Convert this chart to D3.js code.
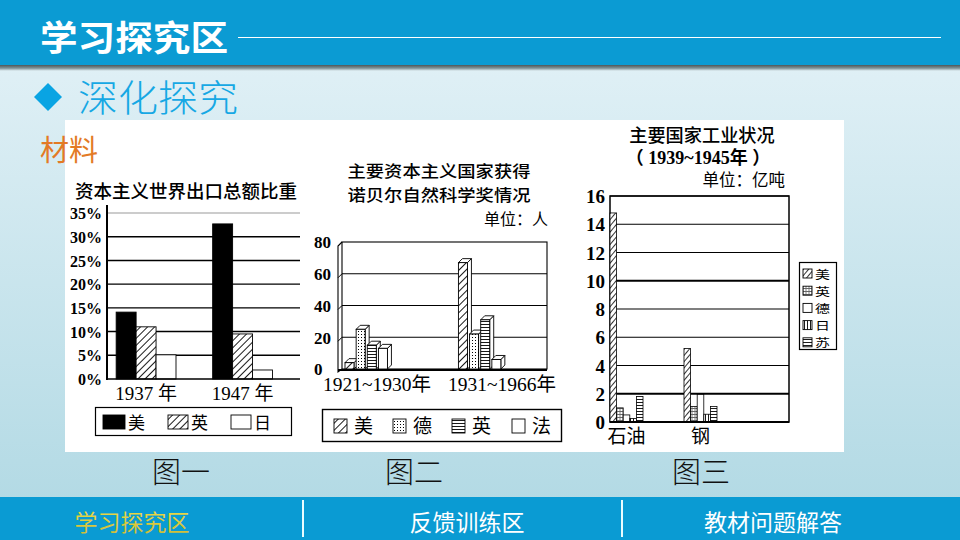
<!DOCTYPE html>
<html><head><meta charset="utf-8">
<script src="https://cdn.jsdelivr.net/npm/d3@7"></script>
<style>html,body{margin:0;padding:0;background:#fff;} svg{display:block;}</style>
</head><body>
<script>
// ---------- DATA ----------
const fig1Years = ["1937 年", "1947 年"];
const fig1Countries = ["美", "英", "日"];
const fig1US = [14.1, 32.7];
const fig1UK = [11.0, 9.5];
const fig1JP = [5.1, 1.9];
const fig1Ticks = [0, 5, 10, 15, 20, 25, 30, 35];

const fig2Periods = ["1921~1930年", "1931~1966年"];
const fig2Countries = ["美", "德", "英", "法"];
const fig2US = [4, 67];
const fig2DE = [25, 22];
const fig2UK = [15, 31];
const fig2FR = [13, 6];
const fig2Ticks = [0, 20, 40, 60, 80];

const fig3Items = ["石油", "钢"];
const fig3Countries = ["美", "英", "德", "日", "苏"];
const fig3US = [14.8, 5.2];
const fig3UK = [1.0, 1.1];
const fig3DE = [0.5, 1.95];
const fig3JP = [0.25, 0.55];
const fig3SU = [1.8, 1.1];
const fig3Ticks = [0, 2, 4, 6, 8, 10, 12, 14, 16];

const navItems = ["学习探究区", "反馈训练区", "教材问题解答"];
const figNames = ["图一", "图二", "图三"];

// ---------- SETUP ----------
const W = 960, H = 540;
const svg = d3.select("body").append("svg").attr("width", W).attr("height", H);
const defs = svg.append("defs");
const CJK = "'Noto Sans CJK SC', sans-serif";
const SERIF = "'Liberation Serif', 'Noto Sans CJK SC', serif";

const bg = defs.append("linearGradient").attr("id", "bg").attr("x1", 0).attr("y1", 0).attr("x2", 0).attr("y2", 1);
bg.append("stop").attr("offset", 0).attr("stop-color", "#e6f3f8");
bg.append("stop").attr("offset", 1).attr("stop-color", "#afd8e3");
const sh = defs.append("linearGradient").attr("id", "sh").attr("x1", 0).attr("y1", 0).attr("x2", 0).attr("y2", 1);
sh.append("stop").attr("offset", 0).attr("stop-color", "#3c4446");
sh.append("stop").attr("offset", 0.6).attr("stop-color", "#7f9499");
sh.append("stop").attr("offset", 1).attr("stop-color", "#e4f2f7");
const yel = defs.append("linearGradient").attr("id", "yel").attr("x1", 0).attr("y1", 0).attr("x2", 0).attr("y2", 1);
yel.append("stop").attr("offset", 0).attr("stop-color", "#f2e04a");
yel.append("stop").attr("offset", 1).attr("stop-color", "#c9b836");

function pat(id, w, h, draw, transform) {
  const p = defs.append("pattern").attr("id", id).attr("patternUnits", "userSpaceOnUse")
    .attr("width", w).attr("height", h);
  if (transform) p.attr("patternTransform", transform);
  p.append("rect").attr("width", w).attr("height", h).attr("fill", "#fff");
  draw(p);
}
pat("diag", 5, 5, p => p.append("line").attr("x1", 0.5).attr("y1", 0).attr("x2", 0.5).attr("y2", 5).attr("stroke", "#000").attr("stroke-width", 0.9), "rotate(45)");
pat("diag2", 4, 4, p => p.append("line").attr("x1", 0.5).attr("y1", 0).attr("x2", 0.5).attr("y2", 4).attr("stroke", "#000").attr("stroke-width", 0.8), "rotate(40)");
pat("hl", 4, 3, p => p.append("line").attr("x1", 0).attr("y1", 0.5).attr("x2", 4).attr("y2", 0.5).attr("stroke", "#000").attr("stroke-width", 0.9));
pat("vl", 3, 4, p => p.append("line").attr("x1", 0.5).attr("y1", 0).attr("x2", 0.5).attr("y2", 4).attr("stroke", "#000").attr("stroke-width", 0.9));
pat("dots", 3, 3, p => p.append("rect").attr("x", 1).attr("y", 1).attr("width", 1).attr("height", 1).attr("fill", "#000"));
pat("grid", 3, 3, p => {
  p.append("line").attr("x1", 0).attr("y1", 0.5).attr("x2", 3).attr("y2", 0.5).attr("stroke", "#000").attr("stroke-width", 0.6);
  p.append("rect").attr("x", 1.5).attr("y", 1.5).attr("width", 1).attr("height", 1).attr("fill", "#000");
});

// ---------- SLIDE BACKGROUND ----------
svg.append("rect").attr("width", W).attr("height", H).attr("fill", "url(#bg)");
svg.append("rect").attr("x", 0).attr("y", 64).attr("width", W).attr("height", 7).attr("fill", "url(#sh)");
svg.append("rect").attr("x", 0).attr("y", 0).attr("width", W).attr("height", 65).attr("fill", "#0b9bd3");
svg.append("text").attr("x", 40).attr("y", 51).attr("font-family", CJK).attr("font-weight", 700)
  .attr("font-size", 35).attr("fill", "#fff").attr("textLength", 188).attr("lengthAdjust", "spacingAndGlyphs").text("学习探究区");
svg.append("line").attr("x1", 238).attr("x2", 941).attr("y1", 37.5).attr("y2", 37.5).attr("stroke", "#fff").attr("stroke-width", 1);

svg.append("path").attr("d", "M48,83 L62,97 L48,111 L34,97 Z").attr("fill", "#09a4e3");
svg.append("text").attr("x", 78).attr("y", 112).attr("font-family", CJK).attr("font-weight", 300)
  .attr("font-size", 37).attr("fill", "#16a8e4").attr("textLength", 160).attr("lengthAdjust", "spacingAndGlyphs").text("深化探究");

// white panel
svg.append("rect").attr("x", 65).attr("y", 120).attr("width", 779).attr("height", 332).attr("fill", "#fff");
svg.append("text").attr("x", 40).attr("y", 161).attr("font-family", CJK).attr("font-size", 29)
  .attr("fill", "#e37a25").text("材料");

// figure labels
const figX = [181, 414, 701];
svg.selectAll("text.fig").data(figNames).join("text").attr("class", "fig")
  .attr("x", (d, i) => figX[i]).attr("y", 483).attr("text-anchor", "middle")
  .attr("font-family", CJK).attr("font-weight", 300).attr("font-size", 29).attr("fill", "#111").text(d => d);

// bottom nav
svg.append("rect").attr("x", 0).attr("y", 497).attr("width", W).attr("height", 43).attr("fill", "#0a9bd3");
[303, 622].forEach(x => svg.append("line").attr("x1", x).attr("x2", x).attr("y1", 500).attr("y2", 537)
  .attr("stroke", "#eafcff").attr("stroke-width", 2));
const navX = [132, 467, 773];
svg.selectAll("text.nav").data(navItems).join("text").attr("class", "nav")
  .attr("x", (d, i) => navX[i]).attr("y", 531).attr("text-anchor", "middle")
  .attr("font-family", CJK).attr("font-size", 23)
  .attr("fill", (d, i) => i === 0 ? "url(#yel)" : "#fff").text(d => d);

// ---------- FIGURE 1 ----------
{
  const g = svg.append("g");
  const y = d3.scaleLinear().domain([0, 35]).range([379, 213]);
  const x0 = d3.scaleBand().domain(fig1Years).range([107, 300]).paddingInner(0.38).paddingOuter(0.19).align(0.25);
  const x1 = d3.scaleBand().domain(fig1Countries).range([0, x0.bandwidth()]);
  const series = [fig1US, fig1UK, fig1JP];
  const fills = ["#000", "url(#diag)", "#fff"];

  g.append("text").attr("x", 186).attr("y", 198).attr("text-anchor", "middle").attr("font-family", CJK)
    .attr("font-weight", 500).attr("font-size", 18.5).attr("fill", "#000").text("资本主义世界出口总额比重");

  g.selectAll("line.grid").data(fig1Ticks.filter(t => t > 0)).join("line")
    .attr("x1", 107).attr("x2", 300).attr("y1", d => y(d)).attr("y2", d => y(d))
    .attr("stroke", d => d === 35 ? "#999" : "#000").attr("stroke-width", d => d === 35 ? 1 : 1.4);
  const ax = g.append("g").attr("transform", "translate(105,0)")
    .call(d3.axisLeft(y).tickValues(fig1Ticks).tickSize(0).tickFormat(d => d + "%"));
  ax.select(".domain").remove();
  ax.selectAll("text").attr("font-family", SERIF).attr("font-weight", 700).attr("font-size", 16).attr("fill", "#000").attr("dy", "0.35em");

  fig1Years.forEach((yr, i) => {
    series.forEach((s, j) => {
      g.append("rect").attr("x", x0(yr) + x1(fig1Countries[j])).attr("width", x1.bandwidth())
        .attr("y", y(s[i])).attr("height", y(0) - y(s[i]))
        .attr("fill", fills[j]).attr("stroke", "#000").attr("stroke-width", 0.9);
    });
    g.append("text").attr("x", x0(yr) + x0.bandwidth() / 2).attr("y", 400).attr("text-anchor", "middle")
      .attr("font-family", SERIF).attr("font-size", 19).attr("fill", "#000").text(yr);
  });
  g.append("line").attr("x1", 107).attr("x2", 107).attr("y1", 205).attr("y2", 380).attr("stroke", "#000").attr("stroke-width", 2);
  g.append("line").attr("x1", 106).attr("x2", 300).attr("y1", 379).attr("y2", 379).attr("stroke", "#000").attr("stroke-width", 1.6);

  // legend
  g.append("rect").attr("x", 95.5).attr("y", 407.5).attr("width", 196).attr("height", 28).attr("fill", "#fff").attr("stroke", "#000").attr("stroke-width", 1.2);
  const lx = [103, 168, 231];
  fig1Countries.forEach((c, j) => {
    g.append("rect").attr("x", lx[j]).attr("y", 415).attr("width", j === 0 ? 22 : 20).attr("height", 14)
      .attr("fill", fills[j]).attr("stroke", "#000").attr("stroke-width", 0.9);
    g.append("text").attr("x", lx[j] + (j === 0 ? 25 : 23)).attr("y", 429).attr("font-family", CJK)
      .attr("font-size", 17).attr("fill", "#000").text(c);
  });
}

// ---------- FIGURE 2 ----------
{
  const g = svg.append("g");
  const y = d3.scaleLinear().domain([0, 80]).range([369, 242]);
  const x0 = d3.scaleBand().domain(fig2Periods).range([345, 503]).paddingInner(0.607).paddingOuter(0);
  const x1 = d3.scaleBand().domain(fig2Countries).range([0, x0.bandwidth()]);
  const series = [fig2US, fig2DE, fig2UK, fig2FR];
  const fills = ["url(#diag)", "url(#dots)", "url(#hl)", "#fff"];
  const d = 4, w = 9;

  g.append("text").attr("x", 439).attr("y", 177).attr("text-anchor", "middle").attr("font-family", CJK)
    .attr("font-weight", 500).attr("font-size", 16.4).attr("fill", "#000")
    .attr("textLength", 183).attr("lengthAdjust", "spacingAndGlyphs").text("主要资本主义国家获得");
  g.append("text").attr("x", 439).attr("y", 201).attr("text-anchor", "middle").attr("font-family", CJK)
    .attr("font-weight", 500).attr("font-size", 16.4).attr("fill", "#000")
    .attr("textLength", 183).attr("lengthAdjust", "spacingAndGlyphs").text("诺贝尔自然科学奖情况");
  g.append("text").attr("x", 548).attr("y", 225).attr("text-anchor", "end").attr("font-family", CJK)
    .attr("font-size", 16).attr("fill", "#000").text("单位：人");

  // frame
  g.append("rect").attr("x", 342).attr("y", 242).attr("width", 205).attr("height", 127).attr("fill", "none").attr("stroke", "#000").attr("stroke-width", 1.1);
  g.append("path").attr("d", "M342,242 L338,246 L338,372 L342,369").attr("fill", "none").attr("stroke", "#000").attr("stroke-width", 1.1);
  g.selectAll("line.grid").data(fig2Ticks.filter(t => t > 0 && t < 80)).join("line")
    .attr("x1", 342).attr("x2", 547).attr("y1", v => y(v)).attr("y2", v => y(v)).attr("stroke", "#000").attr("stroke-width", 1.2);
  g.selectAll("path.gridw").data(fig2Ticks.filter(t => t > 0 && t < 80)).join("path")
    .attr("d", v => `M338,${y(v) + 4} L342,${y(v)}`).attr("stroke", "#000").attr("fill", "none");
  g.append("line").attr("x1", 338).attr("x2", 547).attr("y1", 370).attr("y2", 370).attr("stroke", "#000").attr("stroke-width", 2);

  const ax = g.append("g").attr("transform", "translate(314,0)")
    .call(d3.axisLeft(y).tickValues(fig2Ticks).tickSize(0));
  ax.select(".domain").remove();
  ax.selectAll("text").attr("text-anchor", "start").attr("x", 0).attr("font-family", SERIF).attr("font-weight", 700)
    .attr("font-size", 17).attr("fill", "#000").attr("dy", "0.35em");

  fig2Periods.forEach((pp, i) => {
    series.forEach((s, j) => {
      const bx = x0(pp) + x1(fig2Countries[j]);
      const yt = y(s[i]), yb = y(0);
      g.append("path").attr("d", `M${bx + w},${yt} L${bx + w + d},${yt - d} L${bx + w + d},${yb - d} L${bx + w},${yb} Z`)
        .attr("fill", "#fff").attr("stroke", "#000").attr("stroke-width", 0.9);
      g.append("path").attr("d", `M${bx},${yt} L${bx + d},${yt - d} L${bx + w + d},${yt - d} L${bx + w},${yt} Z`)
        .attr("fill", "#fff").attr("stroke", "#000").attr("stroke-width", 0.9);
      g.append("rect").attr("x", bx).attr("y", yt).attr("width", w).attr("height", yb - yt)
        .attr("fill", fills[j]).attr("stroke", "#000").attr("stroke-width", 0.9);
    });
  });
  const labX = [377, 502];
  fig2Periods.forEach((pp, i) => g.append("text").attr("x", labX[i]).attr("y", 391).attr("text-anchor", "middle")
    .attr("font-family", SERIF).attr("font-size", 19.5).attr("fill", "#000").text(pp));

  // legend
  g.append("rect").attr("x", 322.5).attr("y", 409.5).attr("width", 239).attr("height", 32).attr("fill", "#fff").attr("stroke", "#000").attr("stroke-width", 1.4);
  const lx = [334, 393, 452, 512];
  fig2Countries.forEach((c, j) => {
    g.append("rect").attr("x", lx[j]).attr("y", 419).attr("width", 13).attr("height", 14)
      .attr("fill", fills[j]).attr("stroke", "#000").attr("stroke-width", 0.9);
    g.append("text").attr("x", lx[j] + 20).attr("y", 433).attr("font-family", CJK)
      .attr("font-size", 19).attr("fill", "#000").text(c);
  });
}

// ---------- FIGURE 3 ----------
{
  const g = svg.append("g");
  const y = d3.scaleLinear().domain([0, 16]).range([422, 196]);
  const x0 = d3.scaleBand().domain(fig3Items).range([610, 717]).paddingInner(0.554).paddingOuter(0);
  const x1 = d3.scaleBand().domain(fig3Countries).range([0, x0.bandwidth()]);
  const series = [fig3US, fig3UK, fig3DE, fig3JP, fig3SU];
  const fills = ["url(#diag2)", "url(#grid)", "#fff", "url(#vl)", "url(#hl)"];

  g.append("text").attr("x", 702).attr("y", 142).attr("text-anchor", "middle").attr("font-family", CJK)
    .attr("font-weight", 500).attr("font-size", 18.2).attr("fill", "#000").text("主要国家工业状况");
  g.append("text").attr("x", 698).attr("y", 164).attr("text-anchor", "middle").attr("font-family", SERIF)
    .attr("font-weight", 700).attr("font-size", 18).attr("fill", "#000").text("（ 1939~1945年 ）");
  g.append("text").attr("x", 785).attr("y", 186).attr("text-anchor", "end").attr("font-family", CJK)
    .attr("font-size", 16.5).attr("fill", "#000").text("单位：亿吨");

  g.selectAll("line.grid").data(fig3Ticks.filter(t => t > 0)).join("line")
    .attr("x1", 610).attr("x2", 789).attr("y1", v => y(v)).attr("y2", v => y(v))
    .attr("stroke", "#000").attr("stroke-width", v => (v === 2 || v === 10) ? 2 : 1.2);
  g.append("rect").attr("x", 610).attr("y", 196).attr("width", 179).attr("height", 226).attr("fill", "none").attr("stroke", "#000").attr("stroke-width", 1.5);

  const ax = g.append("g").attr("transform", "translate(605,0)")
    .call(d3.axisLeft(y).tickValues(fig3Ticks).tickSize(0));
  ax.select(".domain").remove();
  ax.selectAll("text").attr("x", 0).attr("font-family", SERIF).attr("font-weight", 700)
    .attr("font-size", 19).attr("fill", "#000").attr("dy", "0.35em");

  fig3Items.forEach((it, i) => {
    series.forEach((s, j) => {
      g.append("rect").attr("x", x0(it) + x1(fig3Countries[j])).attr("width", x1.bandwidth())
        .attr("y", y(s[i])).attr("height", y(0) - y(s[i]))
        .attr("fill", fills[j]).attr("stroke", "#000").attr("stroke-width", 0.8);
    });
    g.append("text").attr("x", x0(it) + x0.bandwidth() / 2).attr("y", 443).attr("text-anchor", "middle")
      .attr("font-family", CJK).attr("font-size", 19).attr("fill", "#000").text(it);
  });
  g.append("line").attr("x1", 610).attr("x2", 789).attr("y1", 422).attr("y2", 422).attr("stroke", "#000").attr("stroke-width", 2);

  // legend
  g.append("rect").attr("x", 799.5).attr("y", 262.5).attr("width", 37).attr("height", 87).attr("fill", "#fff").attr("stroke", "#000").attr("stroke-width", 1.2);
  fig3Countries.forEach((c, j) => {
    const yy = 265 + j * 17.2;
    g.append("rect").attr("x", 803).attr("y", yy + 4).attr("width", 9).attr("height", 9)
      .attr("fill", fills[j]).attr("stroke", "#000").attr("stroke-width", 0.9);
    g.append("text").attr("x", 815).attr("y", yy + 13.5).attr("font-family", CJK)
      .attr("font-size", 11.6).attr("fill", "#000")
      .attr("textLength", 15).attr("lengthAdjust", "spacingAndGlyphs")
      .text(c);
  });
}
</script>
</body></html>
